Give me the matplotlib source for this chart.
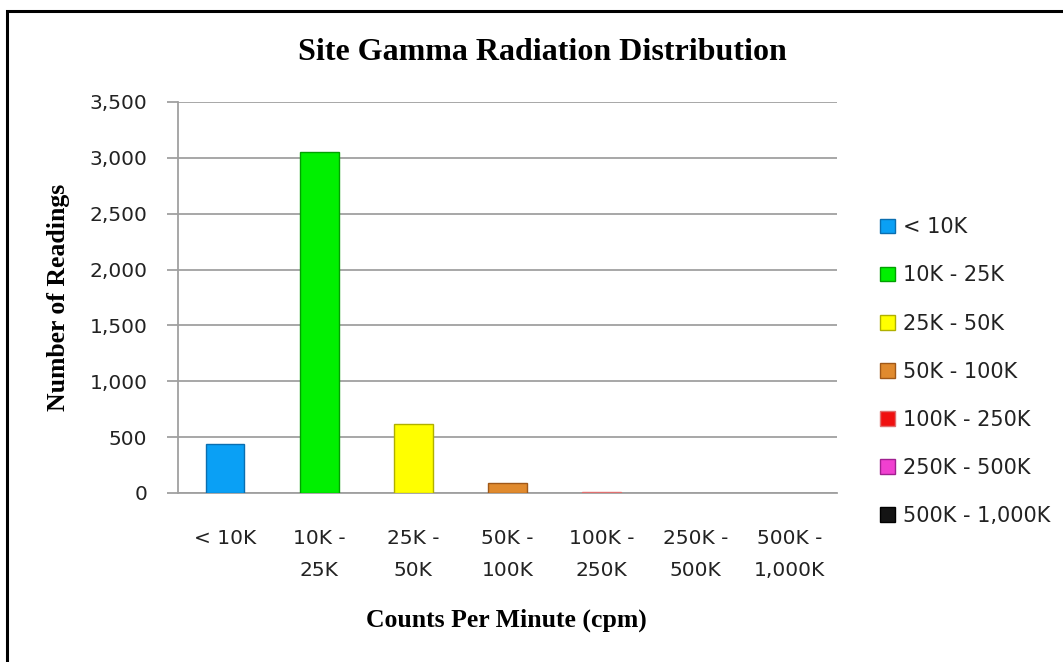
import matplotlib
matplotlib.use("Agg")
import matplotlib.pyplot as plt
from matplotlib.patches import Patch, Rectangle
import numpy as np

categories = ["< 10K", "10K - 25K", "25K - 50K", "50K - 100K",
              "100K - 250K", "250K - 500K", "500K - 1,000K"]
tick_labels = ["< 10K", "10K -\n25K", "25K -\n50K", "50K -\n100K",
               "100K -\n250K", "250K -\n500K", "500K -\n1,000K"]
readings = [435, 3055, 620, 90, 12, 0, 0]
colors = ["#0AA0F5", "#00F000", "#FFFF00", "#E08A2E", "#F01010", "#F040D0", "#141414"]
edges = ["#0A6EB0", "#00A000", "#B0B000", "#A05818", "#E07070", "#A02090", "#000000"]
yticks = [0, 500, 1000, 1500, 2000, 2500, 3000, 3500]

W, H = 1063, 662
fig = plt.figure(figsize=(W / 100, H / 100), dpi=100)
ax = fig.add_axes([178 / W, 1 - 493 / H, (837 - 178) / W, (493 - 102) / H])

x = np.arange(len(categories))
lws = [1.0 if v > 0 else 0.0 for v in readings]
ax.bar(x, readings, width=0.41, color=colors, edgecolor=edges, linewidth=lws, zorder=3)

ax.set_xlim(-0.5, len(categories) - 0.5)
ax.set_ylim(0, 3500)
ax.set_yticks(yticks)
ax.set_yticklabels([f"{v:,}" for v in yticks])
ax.set_xticks(x)
ax.set_xticklabels(tick_labels, linespacing=1.85)
ax.grid(axis="y", color="#A0A0A0", linewidth=1.3, zorder=0)
ax.set_axisbelow(True)
for s in ["top", "right"]:
    ax.spines[s].set_visible(False)
for s in ["left", "bottom"]:
    ax.spines[s].set_color("#A0A0A0")
    ax.spines[s].set_linewidth(1.3)
ax.tick_params(axis="y", length=8, width=1.3, color="#A0A0A0", pad=14,
               labelsize=14.5, labelcolor="#222222")
ax.tick_params(axis="x", length=0, pad=26, labelsize=14.5, labelcolor="#222222")

fig.text(542 / W, 1 - 53 / H, "Site Gamma Radiation Distribution",
         family="Liberation Serif", weight="bold", fontsize=23,
         ha="center", va="center")
fig.text(506 / W, 1 - 620 / H, "Counts Per Minute (cpm)",
         family="Liberation Serif", weight="bold", fontsize=18.5,
         ha="center", va="center")
fig.text(58 / W, 1 - 297 / H, "Number of Readings",
         family="Liberation Serif", weight="bold", fontsize=18.5,
         ha="center", va="center", rotation=90)

handles = [Patch(facecolor=c, edgecolor=e, linewidth=1.0) for c, e in zip(colors, edges)]
leg = fig.legend(handles, categories, loc="upper left",
                 bbox_to_anchor=(872 / W, 1 - 209 / H), frameon=False,
                 fontsize=15, handlelength=0.7, handleheight=0.7,
                 handletextpad=0.4, labelspacing=1.35, borderaxespad=0)
for t in leg.get_texts():
    t.set_color("#222222")

fig.patches.append(Rectangle((7 / W, -0.05), 1.1, 1 - 11 / H + 0.05,
                             transform=fig.transFigure, fill=False,
                             edgecolor="black", linewidth=2.2))

fig.savefig("out.png", dpi=100)
